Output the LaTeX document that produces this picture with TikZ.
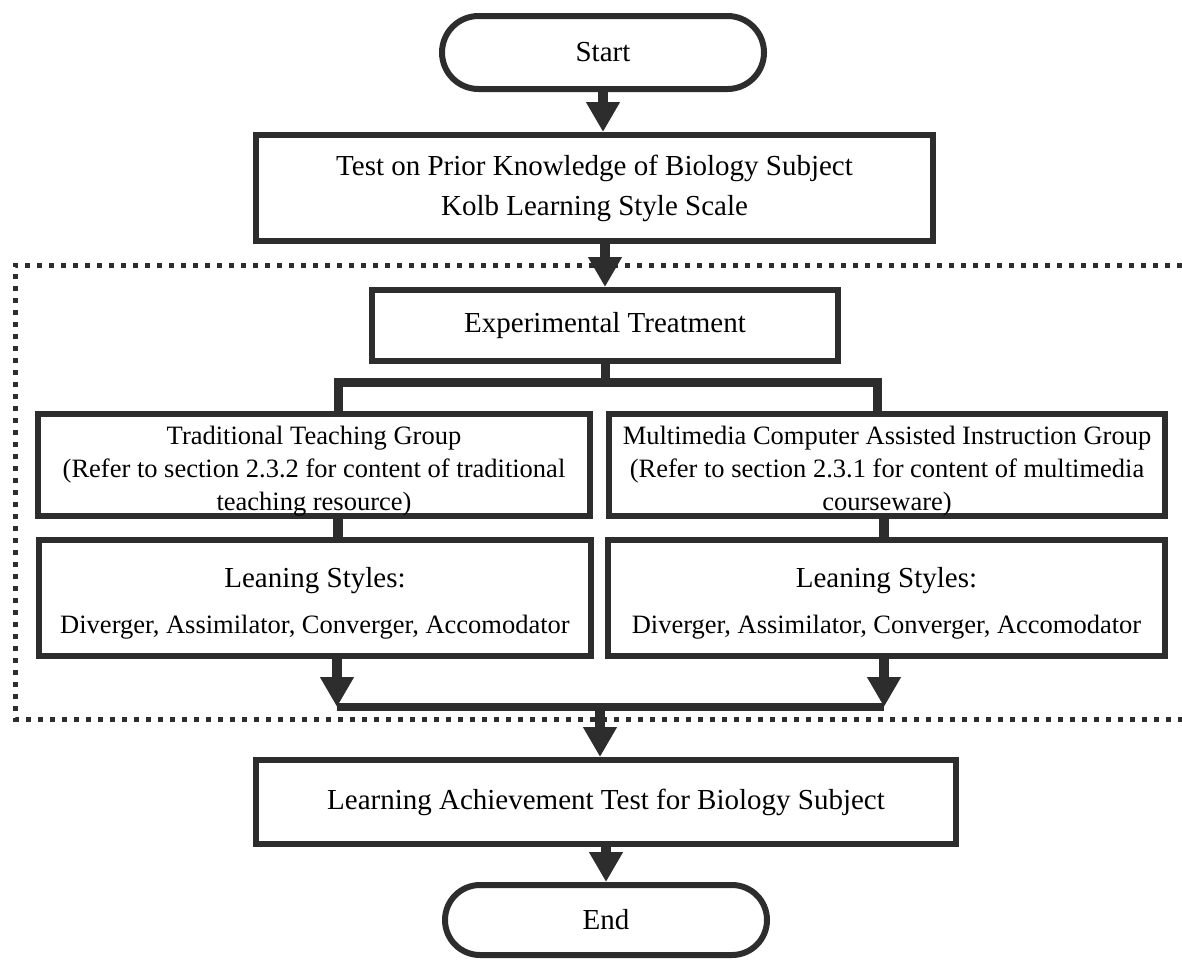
\documentclass[tikz,border=0pt]{standalone}
\usepackage{fontspec}
\setmainfont{Liberation Serif}
\usepackage{tikz}
\usetikzlibrary{arrows.meta}
\definecolor{ink}{RGB}{45,45,45}
\newcommand{\bigtxt}{\fontsize{14.5}{20}\selectfont}
\newcommand{\smalltxt}{\fontsize{13.25}{16.5}\selectfont}

\begin{document}
\begin{tikzpicture}[x=0.5pt,y=-0.5pt,
  term/.style={draw=ink,line width=3pt,inner sep=0pt,minimum width=161pt,font=\bigtxt},
  stepbox/.style={draw=ink,line width=3pt,inner sep=0pt,align=center},
  link/.style={draw=ink,line width=4.5pt},
  flow/.style={draw=ink,line width=5pt,-{Triangle[width=16pt,length=15pt]}},
  frame/.style={draw=ink,line width=2.5pt,dash pattern=on 2.5pt off 3.5pt}]
  \useasboundingbox (0,0) rectangle (1182,959);
  \draw[frame] (1182,265) -- (15,265) -- (15,719) -- (1182,719);
  \node[term,minimum height=36.5pt,rounded corners=18.25pt] (start) at (603,52.5) {Start};
  \node[stepbox,font=\bigtxt,minimum width=338.5pt,minimum height=53pt] (prior) at (594.5,188)
    {Test on Prior Knowledge of Biology Subject\\Kolb Learning Style Scale};
  \node[stepbox,font=\bigtxt,minimum width=233pt,minimum height=35.5pt] (exp) at (605,325.5)
    {Experimental Treatment};
  \node[stepbox,font=\smalltxt,minimum width=276pt,minimum height=49pt] (trad) at (314,465)
    {\rule{0pt}{15.3pt}Traditional Teaching Group\\(Refer to section 2.3.2 for content of traditional\\teaching resource)};
  \node[stepbox,font=\smalltxt,minimum width=278pt,minimum height=49pt] (mca) at (887,465)
    {\rule{0pt}{15.3pt}Multimedia Computer Assisted Instruction Group\\(Refer to section 2.3.1 for content of multimedia\\courseware)};
  \node[stepbox,font=\smalltxt,minimum width=276pt,minimum height=58pt] (lsl) at (315,598)
    {\rule{0pt}{15pt}{\bigtxt Leaning Styles:}\\[6.5pt]Diverger, Assimilator, Converger, Accomodator};
  \node[stepbox,font=\smalltxt,minimum width=278.5pt,minimum height=58pt] (lsr) at (886.5,598)
    {\rule{0pt}{15pt}{\bigtxt Leaning Styles:}\\[6.5pt]Diverger, Assimilator, Converger, Accomodator};
  \node[stepbox,font=\bigtxt,minimum width=350pt,minimum height=42pt] (test) at (606,802)
    {Learning Achievement Test for Biology Subject};
  \node[term,minimum height=35pt,rounded corners=17.5pt] (end) at (606,920) {End};
  \coordinate (splitL) at (338,382);
  \coordinate (splitR) at (877,382);
  \coordinate (joinL) at (337,707);
  \coordinate (joinR) at (884,707);
  \coordinate (merge) at (600,707);
  \draw[flow] (start.south) -- (start.south |- prior.north);
  \draw[flow] (prior.south -| exp.north) -- (exp.north);
  \draw[link] (exp.south) -- (exp.south |- splitL);
  \draw[link] (trad.north -| splitL) -- (splitL) -- (splitR) -- (mca.north -| splitR);
  \draw[link,line width=5pt] (trad.south -| splitL) -- (lsl.north -| splitL);
  \draw[link,line width=5pt] (mca.south -| joinR) -- (lsr.north -| joinR);
  \draw[flow] (lsl.south -| joinL) -- (joinL);
  \draw[flow] (lsr.south -| joinR) -- (joinR);
  \draw[link,line width=4pt] (joinL) -- (joinR);
  \draw[flow] (merge) -- (test.north -| merge);
  \draw[flow] (test.south) -- (end.north);
\end{tikzpicture}
\end{document}
